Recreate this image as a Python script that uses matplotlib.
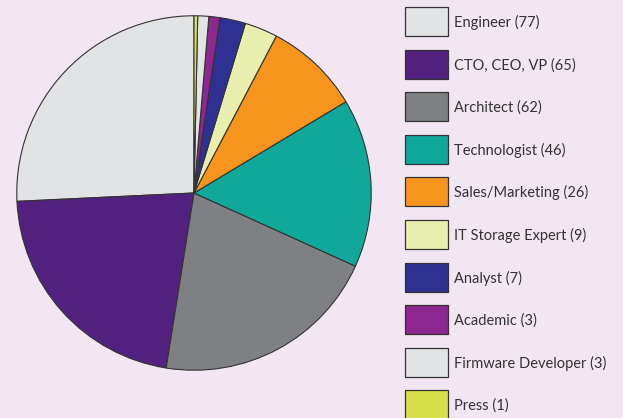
import matplotlib
matplotlib.use('Agg')
import matplotlib.pyplot as plt
from matplotlib.patches import Rectangle

labels = ['Engineer', 'CTO, CEO, VP', 'Architect', 'Technologist', 'Sales/Marketing',
          'IT Storage Expert', 'Analyst', 'Academic', 'Firmware Developer', 'Press']
counts = [77, 65, 62, 46, 26, 9, 7, 3, 3, 1]
colors = ['#E1E3E4', '#52217F', '#7F8083', '#10A89A', '#F7941E',
          '#E8EEAE', '#2E3192', '#8E278F', '#E1E3E4', '#D7E04A']

bg = '#F3E6F3'
fig = plt.figure(figsize=(6.23, 4.18), dpi=100)
fig.patch.set_facecolor(bg)

# pie
ax = fig.add_axes([15 / 623, 46 / 418, 358 / 623, 358 / 418])
ax.pie(counts, colors=colors, startangle=90, counterclock=True,
       wedgeprops=dict(edgecolor='#333333', linewidth=0.8))
ax.set_xlim(-1.01, 1.01)
ax.set_ylim(-1.01, 1.01)
ax.set_aspect('equal')
ax.axis('off')

# legend drawn in pixel coordinates
lg = fig.add_axes([0, 0, 1, 1])
lg.set_xlim(0, 623)
lg.set_ylim(418, 0)
lg.axis('off')
for i, (lab, n, c) in enumerate(zip(labels, counts, colors)):
    yc = 21.5 + 42.6 * i
    lg.add_patch(Rectangle((405, yc - 14.5), 43, 29, facecolor=c,
                           edgecolor='#333333', linewidth=0.9))
    lg.text(453.5, yc + 1, f'{lab} ({n})', fontsize=10.5, family='Lato',
            color='#333333', va='center', ha='left')

fig.savefig('out.png', dpi=100, facecolor=bg)
